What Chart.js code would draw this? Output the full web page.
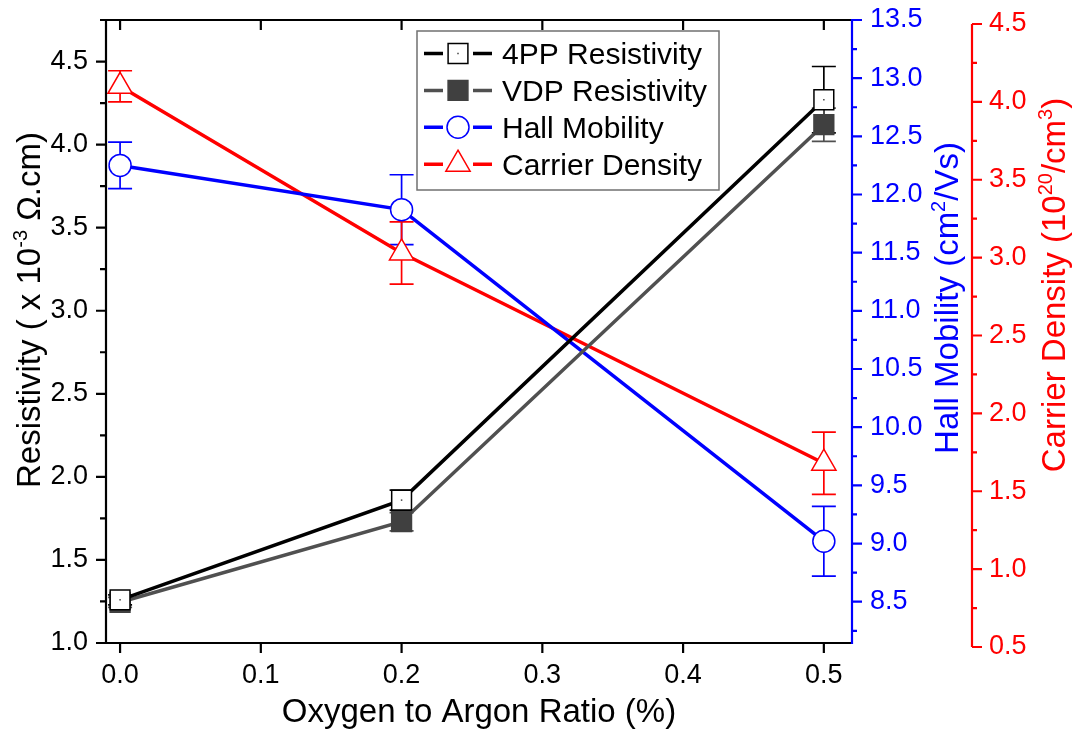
<!DOCTYPE html>
<html>
<head>
<meta charset="utf-8">
<script src="https://cdn.jsdelivr.net/npm/chart.js@4.4.1/dist/chart.umd.min.js"></script>
<style>
  body { margin: 0; background: #fff; }
  canvas { display: block; }
</style>
</head>
<body>
<canvas id="filmChart" width="1078" height="731"></canvas>
<script>
// Film properties vs. O2/Ar ratio during sputtering
const ratio = [0, 0.2, 0.5];

const res4pp = [1.26, 1.86, 4.27];
const res4ppErr = [0.03, 0.06, 0.2];
const resVdp = [1.245, 1.73, 4.12];
const resVdpErr = [0.03, 0.055, 0.1];
const hallMobility = [12.25, 11.87, 9.02];
const hallErr = [0.2, 0.3, 0.3];
const carrierDensity = [4.1, 3.03, 1.68];
const carrierErr = [0.1, 0.2, 0.2];

const ratioTicks = [0, 0.1, 0.2, 0.3, 0.4, 0.5];
const resTicks = [1.0, 1.5, 2.0, 2.5, 3.0, 3.5, 4.0, 4.5];
const hallTicks = [8.5, 9.0, 9.5, 10.0, 10.5, 11.0, 11.5, 12.0, 12.5, 13.0, 13.5];
const carrierTicks = [0.5, 1.0, 1.5, 2.0, 2.5, 3.0, 3.5, 4.0, 4.5];

const FONT = '"Liberation Sans", Arial, sans-serif';
const BLUE = '#0000ff';
const RED = '#ff0000';
const GREY = '#505050';

Chart.defaults.font.family = FONT;

const pts = ys => ratio.map((x, i) => ({ x: x, y: ys[i] }));
const halfway = t => t.slice(1).map((v, i) => (v + t[i]) / 2);

// small marker painter, shared by the legend
function marker(ctx, style, r, x, y) {
    ctx.beginPath();
    if (style === 'rect') {
        const s = r * Math.SQRT1_2;
        ctx.rect(x - s, y - s, 2 * s, 2 * s);
    } else if (style === 'triangle') {
        ctx.moveTo(x, y - r);
        ctx.lineTo(x + r * 0.866, y + r / 2);
        ctx.lineTo(x - r * 0.866, y + r / 2);
        ctx.closePath();
    } else {
        ctx.arc(x, y, r, 0, Math.PI * 2);
    }
    ctx.fill();
    ctx.stroke();
}

// text with superscript parts, centred on the origin
function richText(ctx, parts, size, color) {
    const base = size + 'px ' + FONT;
    const sup = Math.round(size * 0.62) + 'px ' + FONT;
    let total = 0;
    parts.forEach(p => { ctx.font = p[1] ? sup : base; total += ctx.measureText(p[0]).width; });
    let x = -total / 2;
    ctx.fillStyle = color;
    ctx.textAlign = 'left';
    ctx.textBaseline = 'alphabetic';
    parts.forEach(p => {
        ctx.font = p[1] ? sup : base;
        ctx.fillText(p[0], x, p[1] ? -size * 0.4 : 0);
        x += ctx.measureText(p[0]).width;
    });
}

const errorBars = {
    id: 'errorBars',
    beforeDatasetsDraw(chart) {
        const ctx = chart.ctx;
        const xs = chart.scales.x;
        chart.data.datasets.forEach(ds => {
            const ys = chart.scales[ds.yAxisID];
            ctx.save();
            ctx.strokeStyle = ds.borderColor;
            ctx.lineWidth = 1.7;
            ds.data.forEach((p, j) => {
                const e = ds.errors[j];
                const px = xs.getPixelForValue(p.x);
                const top = ys.getPixelForValue(p.y + e);
                const bot = ys.getPixelForValue(p.y - e);
                ctx.beginPath();
                ctx.moveTo(px, top); ctx.lineTo(px, bot);
                ctx.moveTo(px - 12, top); ctx.lineTo(px + 12, top);
                ctx.moveTo(px - 12, bot); ctx.lineTo(px + 12, bot);
                ctx.stroke();
            });
            ctx.restore();
        });
    },
    afterDatasetsDraw(chart) {
        // tiny centre dot in the open 4PP squares
        const ctx = chart.ctx;
        const meta = chart.getDatasetMeta(0);
        ctx.save();
        ctx.fillStyle = '#444';
        meta.data.forEach(pt => ctx.fillRect(pt.x - 0.75, pt.y - 0.75, 1.5, 1.5));
        ctx.restore();
    }
};

const axesFrame = {
    id: 'axesFrame',
    afterDraw(chart) {
        const ctx = chart.ctx;
        const a = chart.chartArea;
        const { x, y, yHall, yCar } = chart.scales;
        ctx.save();
        ctx.lineCap = 'butt';

        // black frame: left, top, bottom
        ctx.strokeStyle = '#000';
        ctx.lineWidth = 2.2;
        ctx.beginPath();
        ctx.moveTo(a.left, a.top); ctx.lineTo(a.left, a.bottom + 1);
        ctx.moveTo(a.left - 1, a.top); ctx.lineTo(a.right, a.top);
        ctx.moveTo(a.left - 1, a.bottom); ctx.lineTo(a.right, a.bottom);
        resTicks.forEach(v => { const p = y.getPixelForValue(v); ctx.moveTo(a.left - 10, p); ctx.lineTo(a.left, p); });
        halfway(resTicks.concat([5.0])).forEach(v => { const p = y.getPixelForValue(v); if (p >= a.top) { ctx.moveTo(a.left - 6, p); ctx.lineTo(a.left, p); } });
        ratioTicks.forEach(v => {
            const p = x.getPixelForValue(v);
            ctx.moveTo(p, a.top); ctx.lineTo(p, a.top + 10);
            ctx.moveTo(p, a.bottom); ctx.lineTo(p, a.bottom + 10);
        });
        ctx.stroke();

        // mobility axis
        ctx.strokeStyle = BLUE;
        ctx.beginPath();
        ctx.moveTo(a.right, a.top - 1); ctx.lineTo(a.right, a.bottom + 1);
        hallTicks.forEach(v => { const p = yHall.getPixelForValue(v); ctx.moveTo(a.right, p); ctx.lineTo(a.right + 10, p); });
        halfway([8.0].concat(hallTicks)).forEach(v => { const p = yHall.getPixelForValue(v); if (p <= a.bottom) { ctx.moveTo(a.right, p); ctx.lineTo(a.right + 5, p); } });
        ctx.stroke();

        // carrier density axis
        const rx = yCar.left;
        ctx.strokeStyle = RED;
        ctx.beginPath();
        ctx.moveTo(rx, yCar.getPixelForValue(4.5)); ctx.lineTo(rx, yCar.getPixelForValue(0.5));
        carrierTicks.forEach(v => { const p = yCar.getPixelForValue(v); ctx.moveTo(rx, p); ctx.lineTo(rx + 10, p); });
        halfway(carrierTicks).forEach(v => { const p = yCar.getPixelForValue(v); ctx.moveTo(rx, p); ctx.lineTo(rx + 5, p); });
        ctx.stroke();

        // axis titles
        ctx.save();
        ctx.translate(40, 310);
        ctx.rotate(-Math.PI / 2);
        richText(ctx, [['Resistivity ( x 10', 0], ['-3', 1], [' \u03A9.cm)', 0]], 33, '#000');
        ctx.restore();

        ctx.save();
        ctx.translate(958, 298);
        ctx.rotate(-Math.PI / 2);
        richText(ctx, [['Hall Mobility (cm', 0], ['2', 1], ['/Vs)', 0]], 33, BLUE);
        ctx.restore();

        ctx.save();
        ctx.translate(1065, 285);
        ctx.rotate(-Math.PI / 2);
        richText(ctx, [['Carrier Density (10', 0], ['20', 1], ['/cm', 0], ['3', 1], [')', 0]], 33, RED);
        ctx.restore();

        ctx.save();
        ctx.translate((a.left + a.right) / 2, 722);
        richText(ctx, [['Oxygen to Argon Ratio (%)', 0]], 33, '#000');
        ctx.restore();

        ctx.restore();
    }
};

const boxLegend = {
    id: 'boxLegend',
    afterDraw(chart) {
        const ctx = chart.ctx;
        ctx.save();
        ctx.fillStyle = '#fff';
        ctx.strokeStyle = '#707070';
        ctx.lineWidth = 1.5;
        ctx.fillRect(417, 31, 302, 159);
        ctx.strokeRect(417, 31, 302, 159);
        chart.data.datasets.forEach((ds, i) => {
            const cy = 53.5 + i * 36.9;
            ctx.strokeStyle = ds.borderColor;
            ctx.lineWidth = 3.5;
            ctx.beginPath();
            ctx.moveTo(424, cy); ctx.lineTo(443, cy);
            ctx.moveTo(473, cy); ctx.lineTo(492, cy);
            ctx.stroke();
            ctx.fillStyle = ds.pointBackgroundColor;
            ctx.strokeStyle = ds.pointBorderColor;
            ctx.lineWidth = ds.pointBorderWidth;
            marker(ctx, ds.pointStyle, ds.pointRadius, 458, cy);
            if (i === 0) { ctx.fillStyle = '#444'; ctx.fillRect(457.25, cy - 0.75, 1.5, 1.5); }
            ctx.fillStyle = '#000';
            ctx.font = '30px ' + FONT;
            ctx.textAlign = 'left';
            ctx.textBaseline = 'alphabetic';
            ctx.fillText(ds.label, 502, cy + 10.7);
        });
        ctx.restore();
    }
};

const tickList = list => scale => { scale.ticks = list.map(v => ({ value: v })); };
const oneDp = v => Number(v).toFixed(1);
// fixed box size, no extra label overhang padding
const fixWidth = w => s => { s.width = w; s.paddingTop = 0; s.paddingBottom = 0; };

new Chart(document.getElementById('filmChart'), {
    type: 'line',
    data: {
        datasets: [
            {
                label: '4PP Resistivity',
                data: pts(res4pp),
                errors: res4ppErr,
                yAxisID: 'y',
                borderColor: '#000',
                borderWidth: 3.5,
                pointStyle: 'rect',
                pointRadius: 14,
                pointBorderWidth: 1.5,
                pointBorderColor: '#000',
                pointBackgroundColor: '#fff'
            },
            {
                label: 'VDP Resistivity',
                data: pts(resVdp),
                errors: resVdpErr,
                yAxisID: 'y',
                borderColor: GREY,
                borderWidth: 3.5,
                pointStyle: 'rect',
                pointRadius: 14,
                pointBorderWidth: 1.5,
                pointBorderColor: '#404040',
                pointBackgroundColor: '#404040'
            },
            {
                label: 'Hall Mobility',
                data: pts(hallMobility),
                errors: hallErr,
                yAxisID: 'yHall',
                borderColor: BLUE,
                borderWidth: 3.5,
                pointStyle: 'circle',
                pointRadius: 11,
                pointBorderWidth: 1.5,
                pointBorderColor: BLUE,
                pointBackgroundColor: '#fff'
            },
            {
                label: 'Carrier Density',
                data: pts(carrierDensity),
                errors: carrierErr,
                yAxisID: 'yCar',
                borderColor: RED,
                borderWidth: 3.5,
                pointStyle: 'triangle',
                pointRadius: 14,
                pointBorderWidth: 1.5,
                pointBorderColor: RED,
                pointBackgroundColor: '#fff'
            }
        ]
    },
    options: {
        responsive: false,
        animation: false,
        layout: { padding: { top: 20, left: 0, right: 0, bottom: 0 } },
        elements: { line: { tension: 0 } },
        plugins: {
            legend: { display: false },
            tooltip: { enabled: false }
        },
        scales: {
            x: {
                type: 'linear',
                min: -0.01,
                max: 0.52,
                afterBuildTicks: tickList(ratioTicks),
                afterFit: s => { s.height = 88; s.paddingLeft = 0; s.paddingRight = 0; },
                grid: { display: false, drawTicks: false },
                border: { display: false },
                ticks: {
                    callback: oneDp,
                    color: '#000',
                    padding: 16,
                    autoSkip: false,
                    maxRotation: 0,
                    font: { size: 27 }
                }
            },
            y: {
                type: 'linear',
                position: 'left',
                min: 1.0,
                max: 4.75,
                afterBuildTicks: tickList(resTicks),
                afterFit: fixWidth(106),
                grid: { display: false, drawTicks: false },
                border: { display: false },
                ticks: { callback: oneDp, color: '#000', padding: 18, autoSkip: false, font: { size: 27 } }
            },
            yHall: {
                type: 'linear',
                position: 'right',
                weight: 0,
                min: 8.145,
                max: 13.5,
                afterBuildTicks: tickList(hallTicks),
                afterFit: fixWidth(120),
                grid: { display: false, drawTicks: false },
                border: { display: false },
                ticks: { callback: oneDp, color: BLUE, padding: 18, autoSkip: false, font: { size: 27 } }
            },
            yCar: {
                type: 'linear',
                position: 'right',
                weight: 1,
                min: 0.5257,
                max: 4.5257,
                afterBuildTicks: tickList(carrierTicks),
                afterFit: fixWidth(106),
                grid: { display: false, drawTicks: false },
                border: { display: false },
                ticks: { callback: oneDp, color: RED, padding: 17, autoSkip: false, font: { size: 27 } }
            }
        }
    },
    plugins: [errorBars, axesFrame, boxLegend]
});
</script>
</body>
</html>
